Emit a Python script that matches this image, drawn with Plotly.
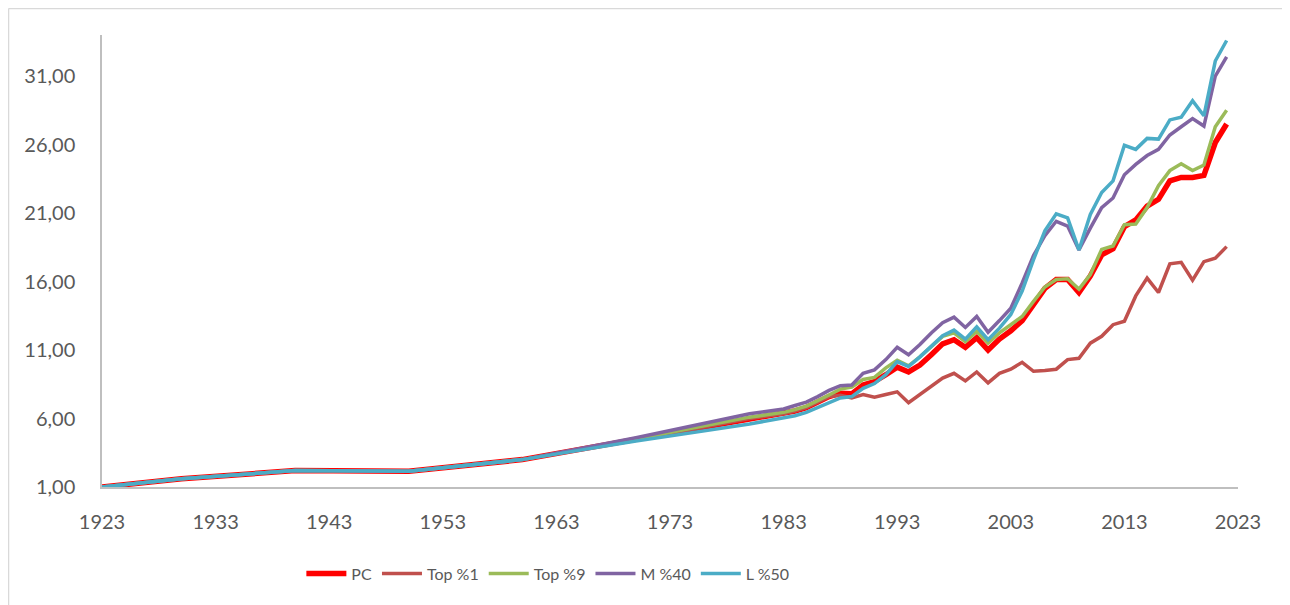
import plotly.graph_objects as go

years = [1923, 1930, 1940, 1950, 1960, 1970, 1980, 1981, 1982, 1983, 1984, 1985, 1986, 1987,
         1988, 1989, 1990, 1991, 1992, 1993, 1994, 1995, 1996, 1997, 1998, 1999, 2000,
         2001, 2002, 2003, 2004, 2005, 2006, 2007, 2008, 2009, 2010, 2011, 2012, 2013,
         2014, 2015, 2016, 2017, 2018, 2019, 2020, 2021, 2022]

pc = [1.0, 1.6, 2.2, 2.15, 3.0, 4.45, 6.0, 6.1, 6.2, 6.35, 6.55, 6.8, 7.2, 7.6,
      7.85, 7.8, 8.45, 8.7, 9.2, 9.75, 9.4, 9.9, 10.65, 11.45, 11.75, 11.2, 11.9,
      11.0, 11.8, 12.4, 13.15, 14.4, 15.5, 16.15, 16.15, 15.2, 16.4, 17.95, 18.4, 20.0,
      20.5, 21.5, 22.0, 23.35, 23.6, 23.6, 23.75, 26.15, 27.5]

top1 = [1.0, 1.6, 2.2, 2.15, 3.0, 4.45, 6.0, 6.1, 6.2, 6.35, 6.55, 6.8, 7.2, 7.6,
        7.7, 7.5, 7.75, 7.55, 7.75, 7.95, 7.15, 7.75, 8.35, 8.95, 9.3, 8.75, 9.4,
        8.6, 9.3, 9.6, 10.1, 9.45, 9.5, 9.6, 10.3, 10.4, 11.5, 12.0, 12.85, 13.1,
        14.95, 16.25, 15.2, 17.3, 17.4, 16.1, 17.45, 17.7, 18.55]

top9 = [1.0, 1.6, 2.2, 2.15, 3.0, 4.5, 6.1, 6.2, 6.3, 6.45, 6.65, 6.9, 7.3, 7.75,
        8.15, 8.3, 8.85, 9.0, 9.7, 10.25, 9.85, 10.5, 11.25, 12.0, 12.25, 11.6, 12.35,
        11.5, 12.25, 12.85, 13.45, 14.55, 15.6, 16.15, 16.2, 15.45, 16.5, 18.35, 18.6, 20.15,
        20.2, 21.4, 23.0, 24.1, 24.6, 24.1, 24.5, 27.3, 28.5]

m40 = [1.0, 1.6, 2.2, 2.15, 3.0, 4.6, 6.35, 6.45, 6.55, 6.7, 6.95, 7.2, 7.6, 8.05,
       8.4, 8.45, 9.3, 9.55, 10.3, 11.2, 10.65, 11.4, 12.25, 13.0, 13.4, 12.65, 13.45,
       12.3, 13.15, 14.05, 15.9, 17.9, 19.35, 20.4, 20.05, 18.3, 19.9, 21.4, 22.1, 23.8,
       24.55, 25.2, 25.65, 26.7, 27.3, 27.9, 27.35, 31.0, 32.4]

l50 = [1.0, 1.6, 2.2, 2.15, 3.0, 4.35, 5.6, 5.75, 5.85, 6.0, 6.2, 6.45, 6.8, 7.2,
       7.5, 7.6, 8.2, 8.55, 9.2, 10.15, 9.8, 10.5, 11.25, 12.05, 12.45, 11.8, 12.7,
       11.75, 12.6, 13.6, 15.3, 17.6, 19.7, 20.95, 20.65, 18.3, 20.9, 22.5, 23.35, 25.95,
       25.65, 26.45, 26.4, 27.8, 28.0, 29.2, 28.1, 32.1, 33.6]

series_names = ["PC", "Top %1", "Top %9", "M %40", "L %50"]
series_values = [pc, top1, top9, m40, l50]
series_colors = ["#FF0000", "#C0504D", "#9BBB59", "#8064A2", "#4BACC6"]
series_widths = [5.5, 3.5, 3.5, 3.5, 3.5]

x_ticks = list(range(1923, 2024, 10))
y_ticks = [1, 6, 11, 16, 21, 26, 31]
y_ticktext = ["1,00", "6,00", "11,00", "16,00", "21,00", "26,00", "31,00"]

FONT = "Lato, 'Open Sans', sans-serif"

fig = go.Figure()
for name, vals, col, w in zip(series_names, series_values, series_colors, series_widths):
    fig.add_trace(go.Scatter(x=years, y=vals, mode="lines", name=name,
                             line=dict(color=col, width=w)))

fig.update_layout(
    width=1290, height=605,
    margin=dict(l=94, r=60, t=27, b=126),
    paper_bgcolor="white", plot_bgcolor="white",
    font=dict(family=FONT, size=17, color="#595959"),
    showlegend=True,
    legend=dict(orientation="h", x=0.1755, xanchor="left", y=-0.154, yanchor="top",
                font=dict(family=FONT, size=16, color="#595959"),
                itemwidth=40, tracegroupgap=0),
    xaxis=dict(range=[1923, 2023], tickmode="array", tickvals=x_ticks,
               showgrid=False, zeroline=False, showline=True,
               linecolor="#BFBFBF", linewidth=1.5, ticks="",
               ticklabelstandoff=16, tickfont=dict(size=20)),
    yaxis=dict(range=[1, 34], tickmode="array", tickvals=y_ticks, ticktext=y_ticktext,
               showgrid=False, zeroline=False, showline=True,
               linecolor="#BFBFBF", linewidth=1.5, ticks="",
               ticklabelstandoff=21, tickfont=dict(size=20)),
    shapes=[
        dict(type="line", xref="paper", yref="paper", x0=-0.0823, x1=1.06,
             y0=1.0585, y1=1.0585, line=dict(color="#D9D9D9", width=1.5)),
        dict(type="line", xref="paper", yref="paper", x0=-0.0823, x1=-0.0823,
             y0=1.0585, y1=-0.3, line=dict(color="#D9D9D9", width=1.5)),
    ],
)

fig.write_html("out.html")
